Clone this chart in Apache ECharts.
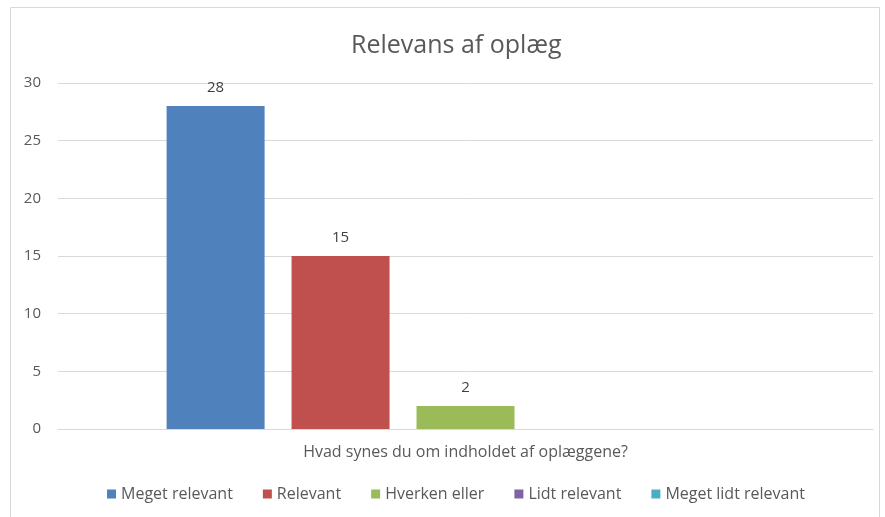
<!DOCTYPE html>
<html><head><meta charset="utf-8">
<script src="https://cdn.jsdelivr.net/npm/echarts@6/dist/echarts.min.js"></script>
<style>html,body{margin:0;padding:0;background:#fff}#c{width:885px;height:517px}</style>
</head><body><div id="c"></div>
<script>
const title = 'Relevans af oplæg';
const categories = ['Hvad synes du om indholdet af oplæggene?'];
const seriesNames = ['Meget relevant', 'Relevant', 'Hverken eller', 'Lidt relevant', 'Meget lidt relevant'];
const seriesValues = [28, 15, 2, 0, 0];
const colors = ['#4F81BD', '#C0504D', '#9BBB59', '#8064A2', '#4BACC6'];
const yTicks = { min: 0, max: 30, interval: 5 };

const FONT = 'Open Sans';
const chart = echarts.init(document.getElementById('c'));
chart.setOption({
  animation: false,
  color: colors,
  title: { text: title, left: 346, top: 28,
    textStyle: { fontFamily: FONT, fontSize: 25, fontWeight: 'normal', color: '#595959' } },
  graphic: [{ type: 'rect', shape: { x: 10.5, y: 7.5, width: 869, height: 520 },
    style: { fill: 'none', stroke: '#d9d9d9', lineWidth: 1 }, silent: true }],
  grid: { left: 58, right: 12, top: 83, bottom: 88 },
  legend: { top: 481, left: 102, itemWidth: 9, itemHeight: 9, itemGap: 30,
    icon: 'rect', data: seriesNames,
    textStyle: { fontFamily: FONT, fontSize: 16, color: '#595959' } },
  xAxis: { type: 'category', data: categories,
    axisLine: { lineStyle: { color: '#d9d9d9' } }, axisTick: { show: false },
    axisLabel: { fontFamily: FONT, fontSize: 16, color: '#595959', margin: 15 } },
  yAxis: { type: 'value', min: yTicks.min, max: yTicks.max, interval: yTicks.interval,
    axisLine: { show: false }, axisTick: { show: false },
    splitLine: { lineStyle: { color: '#d9d9d9' } },
    axisLabel: { fontFamily: FONT, fontSize: 15, color: '#595959', margin: 17 } },
  series: seriesNames.map((n, i) => ({
    name: n, type: 'bar', data: [seriesValues[i]], barWidth: 98, barGap: '27.5%',
    label: { show: true, position: 'top', distance: 11, fontFamily: FONT, fontSize: 15, color: '#404040',
      formatter: p => p.value === 0 ? '' : p.value }
  }))
});
</script></body></html>
